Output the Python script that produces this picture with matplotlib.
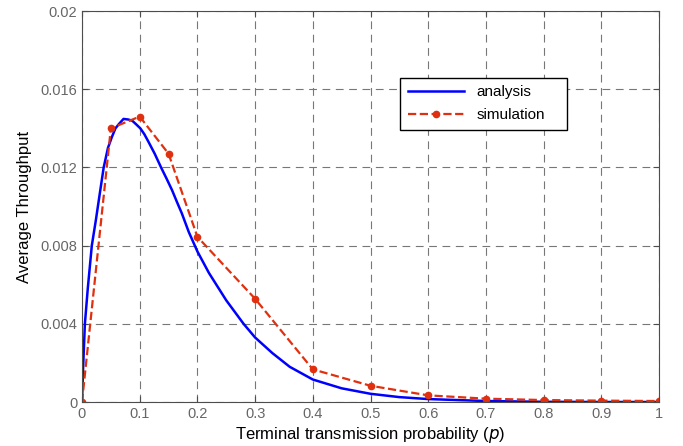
import numpy as np
import matplotlib
matplotlib.use('Agg')
import matplotlib.pyplot as plt

plt.rcParams['font.family'] = ['Liberation Sans', 'DejaVu Sans']

# analysis curve
p_analysis = [0, 0.002, 0.005, 0.01, 0.017, 0.024, 0.03, 0.0376, 0.045, 0.052,
              0.058, 0.064, 0.072, 0.08, 0.087, 0.094, 0.101, 0.108, 0.115, 0.126,
              0.137, 0.147, 0.156, 0.165, 0.173, 0.185, 0.2, 0.22, 0.25, 0.28,
              0.3, 0.33, 0.36, 0.4, 0.45, 0.5, 0.55, 0.6, 0.7, 0.8, 0.9, 1.0]
thr_analysis = [0, 0.0018, 0.004, 0.0058, 0.008, 0.0093, 0.0105, 0.0120, 0.0130, 0.01357,
                0.0140, 0.01422, 0.01448, 0.01445, 0.01439, 0.0142, 0.0140, 0.0137, 0.01332, 0.0127,
                0.0120, 0.0114, 0.01084, 0.0102, 0.00965, 0.0087, 0.0077, 0.0066, 0.0052, 0.0040,
                0.0033, 0.0025, 0.0018, 0.00115, 0.0007, 0.00042, 0.00025, 0.00015, 0.00005, 0.00001, 0, 0]

# simulation points
p_sim = [0, 0.05, 0.1, 0.15, 0.2, 0.3, 0.4, 0.5, 0.6, 0.7, 0.8, 0.9, 1.0]
thr_sim = [0, 0.0140, 0.0146, 0.0127, 0.00845, 0.00528, 0.00167, 0.00083,
           0.00034, 0.00017, 0.0001, 0.00007, 0.00005]

fg = '#4d4d4d'
fig = plt.figure(figsize=(6.83, 4.46), dpi=100)
ax = fig.add_axes([82 / 683, 44 / 446, 577 / 683, 391 / 446])

ax.plot(p_analysis, thr_analysis, color='#0000ff', lw=1.8, label='analysis')
ax.plot(p_sim, thr_sim, '--o', color='#e0300f', lw=1.6, ms=4.5, label='simulation')

ax.set_xlim(0, 1)
ax.set_ylim(0, 0.02)
ax.set_xticks(np.arange(0, 1.01, 0.1))
ax.set_xticklabels(['0', '0.1', '0.2', '0.3', '0.4', '0.5', '0.6', '0.7', '0.8', '0.9', '1'])
ax.set_yticks([0, 0.004, 0.008, 0.012, 0.016, 0.02])
ax.set_yticklabels(['0', '0.004', '0.008', '0.012', '0.016', '0.02'])
ax.grid(True, linestyle=(0, (7, 5)), color='#777777', lw=0.8)
ax.tick_params(direction='in', top=True, right=True, colors=fg, labelcolor='#666666',
               labelsize=10.5, length=4)
for spine in ax.spines.values():
    spine.set_color(fg)

ax.set_xlabel('Terminal transmission probability ($\\it{p}$)', fontsize=12, labelpad=3)
ax.set_ylabel('Average Throughput', fontsize=12, labelpad=6)

# matlab-style legend box with extra room on the right
leg = ax.legend(loc='upper left', bbox_to_anchor=(0.551, 0.70, 0.289, 0.129),
                mode='expand', borderaxespad=0,
                fontsize=11, fancybox=False, edgecolor='black', framealpha=1,
                handlelength=3.7, borderpad=0.5, labelspacing=0.55)
leg.get_frame().set_linewidth(1.0)

fig.savefig('out.png', dpi=100)
